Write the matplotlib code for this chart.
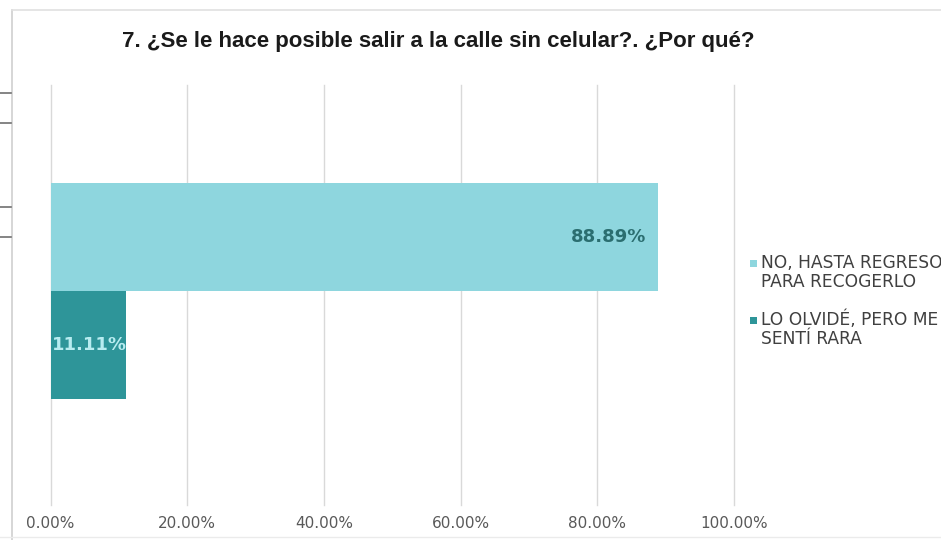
import matplotlib
matplotlib.use("Agg")
import matplotlib.pyplot as plt
from matplotlib.lines import Line2D
from matplotlib.patches import Rectangle

title = "7. ¿Se le hace posible salir a la calle sin celular?. ¿Por qué?"
series_names = ["NO, HASTA REGRESO\nPARA RECOGERLO", "LO OLVIDÉ, PERO ME\nSENTÍ RARA"]
values = [88.89, 11.11]
colors = ["#8ED6DE", "#2E9599"]
label_colors = ["#2B6E70", "#B8ECF0"]
ticks = [0, 20, 40, 60, 80, 100]
tick_labels = ["0.00%", "20.00%", "40.00%", "60.00%", "80.00%", "100.00%"]

W, H = 941, 540
fig = plt.figure(figsize=(W / 100, H / 100), dpi=100)
fig.patch.set_facecolor("white")

# plot area in pixel coordinates
x0, x1 = 50.5, 734.0
y_top, y_bot = 85.0, 505.0
ax = fig.add_axes([x0 / W, (H - y_bot) / H, (x1 - x0) / W, (y_bot - y_top) / H])

# vertical gridlines, drawn unclipped so the 100% line shows at the edge
for t in ticks:
    ax.axvline(t, color="#D9D9D9", linewidth=1, zorder=0, clip_on=False)

# two series in one category: first above, second below
offsets = [0.5, -0.5]
for v, c, lc, off in zip(values, colors, label_colors, offsets):
    ax.barh(off, v, height=1.0, color=c, zorder=2)
    if v > 20:
        ax.text(v - 1.8, off, f"{v:.2f}%", ha="right", va="center",
                color=lc, fontsize=13, fontweight="bold",
                family="DejaVu Sans", zorder=3)
    else:
        ax.text(0.2, off, f"{v:.2f}%", ha="left", va="center",
                color=lc, fontsize=13, fontweight="bold",
                family="DejaVu Sans", zorder=3)

ax.set_xlim(0, 100)
ax.set_ylim(-1.98, 1.907)
ax.set_xticks(ticks)
ax.set_xticklabels(tick_labels, family="DejaVu Sans", fontsize=11, color="#595959")
ax.tick_params(axis="x", length=0, pad=8)
ax.set_yticks([])
for s in ax.spines.values():
    s.set_visible(False)

fig.text(438 / W, 1 - 41 / H, title, ha="center", va="center",
         fontsize=16, fontweight="bold", color="#1A1A1A",
         family="Liberation Sans")

# legend: square key aligned with the first line of each two-line entry
entry_tops = [263, 320]
line_gap = 19
for name, c, yy in zip(series_names, colors, entry_tops):
    fig.add_artist(Rectangle(((750) / W, 1 - (yy + 3.5) / H), 7 / W, 7 / H,
                             transform=fig.transFigure, facecolor=c,
                             edgecolor="none"))
    for i, line in enumerate(name.split("\n")):
        fig.text(761 / W, 1 - (yy + i * line_gap) / H, line,
                 ha="left", va="center", fontsize=12.3, color="#404040",
                 family="DejaVu Sans")

# chart frame and the edge of the neighbouring panel
fig.add_artist(Line2D([12 / W, 12 / W], [0, 1 - 10 / H], color="#D0D0D0", lw=1.2))
fig.add_artist(Line2D([12 / W, 1], [1 - 10 / H, 1 - 10 / H], color="#E0E0E0", lw=1.2))
fig.add_artist(Line2D([0, 1], [1 - 537 / H, 1 - 537 / H], color="#EBEBEB", lw=1.0))
for yy in [93, 123, 207, 237]:
    fig.add_artist(Line2D([0, 11 / W], [1 - yy / H, 1 - yy / H], color="#707070", lw=1.2))

fig.savefig("out.png", dpi=100)
